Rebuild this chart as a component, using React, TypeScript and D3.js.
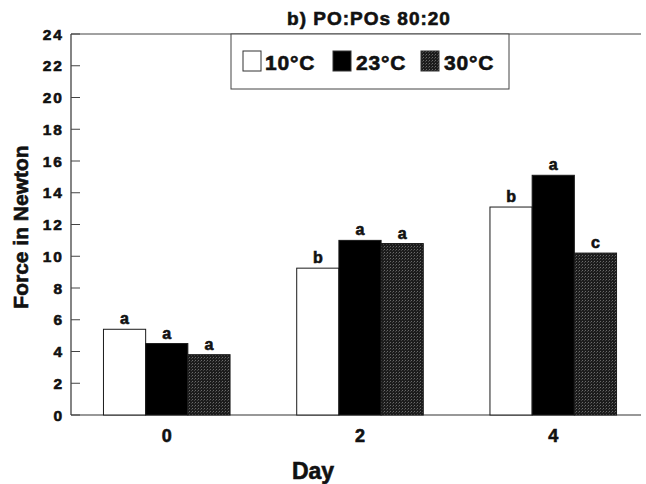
import React from "react";
import * as d3 from "d3";

const days = ["0", "2", "4"];
const series = ["10°C", "23°C", "30°C"];
const values10 = [5.4, 9.25, 13.1];
const values23 = [4.5, 11.0, 15.1];
const values30 = [3.8, 10.8, 10.2];
const letters10 = ["a", "b", "b"];
const letters23 = ["a", "a", "a"];
const letters30 = ["a", "a", "c"];
const yTicks = [0, 2, 4, 6, 8, 10, 12, 14, 16, 18, 20, 22, 24];
const title = "b) PO:POs 80:20";
const xTitle = "Day";
const yTitle = "Force in Newton";

const W = 646;
const H = 484;
const left = 71;
const top = 34;
const bottom = 415;
const rightLine = 641;
const FONT = "'Liberation Sans', Arial, Helvetica, sans-serif";
const heavy = { fontFamily: FONT, fontWeight: 700, fill: "#111", stroke: "#111", strokeWidth: 0.6 } as const;

export default function App() {
  const x = d3.scaleBand<string>().domain(days).range([left, 649]).paddingInner(0.345).paddingOuter(0.168);
  const xs = d3.scaleBand<string>().domain(series).range([0, x.bandwidth()]).padding(0);
  const y = d3.scaleLinear().domain([0, 24]).range([bottom, top]);
  const valueSets = [values10, values23, values30];
  const letterSets = [letters10, letters23, letters30];
  const fills = ["#ffffff", "#000000", "url(#stipple)"];

  const bars: React.ReactNode[] = [];
  days.forEach((d, di) => {
    series.forEach((s, si) => {
      const v = valueSets[si][di];
      const bx = (x(d) as number) + (xs(s) as number);
      const bw = xs.bandwidth();
      bars.push(
        <rect key={`b${di}${si}`} x={bx} y={y(v)} width={bw} height={y(0) - y(v)}
          fill={fills[si]} stroke="#1a1a1a" strokeWidth={1} />
      );
      bars.push(
        <text key={`l${di}${si}`} x={bx + bw / 2} y={y(v) - 5} textAnchor="middle"
          {...heavy} fontSize={16}>{letterSets[si][di]}</text>
      );
    });
  });

  const lx = 231, ly = 34, lw = 278, lh = 55;
  const legendItems = [
    { sx: 243, tx: 265 },
    { sx: 333, tx: 356 },
    { sx: 421, tx: 444 },
  ];

  return (
    <svg width={W} height={H} style={{ display: "block", position: "absolute", left: 0, top: 0, background: "#fff" }}>
      <defs>
        <pattern id="stipple" width={3} height={3} patternUnits="userSpaceOnUse">
          <rect width={3} height={3} fill="#1c1c1c" />
          <rect x={0} y={0} width={1} height={1} fill="#6a6a6a" />
          <rect x={2} y={1} width={1} height={1} fill="#444" />
        </pattern>
      </defs>
      <rect width={W} height={H} fill="#fff" />
      <text x={369} y={25} textAnchor="middle" {...heavy} fontSize={19} letterSpacing={1}>{title}</text>

      {/* frame */}
      <line x1={left} x2={rightLine} y1={top} y2={top} stroke="#444" strokeWidth={1} />
      <line x1={left} x2={rightLine} y1={bottom} y2={bottom} stroke="#333" strokeWidth={1.2} />
      <line x1={left} x2={left} y1={top} y2={bottom} stroke="#333" strokeWidth={1.2} />

      {yTicks.map((t) => (
        <g key={t}>
          <line x1={left} x2={left + 9} y1={y(t)} y2={y(t)} stroke="#444" strokeWidth={1} />
          <text x={64} y={y(t) + 5.5} textAnchor="end" {...heavy} fontSize={15.5} letterSpacing={2}>{t}</text>
        </g>
      ))}

      {days.map((d) => (
        <text key={d} x={(x(d) as number) + x.bandwidth() / 2} y={442} textAnchor="middle" {...heavy} fontSize={18}>{d}</text>
      ))}

      {bars}

      <text x={313} y={479} textAnchor="middle" {...heavy} fontSize={23}>{xTitle}</text>
      <text transform={`translate(28,227) rotate(-90)`} textAnchor="middle" {...heavy} fontSize={21}>{yTitle}</text>

      {/* legend */}
      <rect x={lx} y={ly} width={lw} height={lh} fill="#fff" stroke="#444" strokeWidth={1} />
      {series.map((s, i) => (
        <g key={s}>
          <rect x={legendItems[i].sx} y={51} width={18} height={20} fill={fills[i]} stroke="#333" strokeWidth={1} />
          <text x={legendItems[i].tx} y={70} {...heavy} fontSize={21} letterSpacing={0.8}>{s}</text>
        </g>
      ))}
    </svg>
  );
}
